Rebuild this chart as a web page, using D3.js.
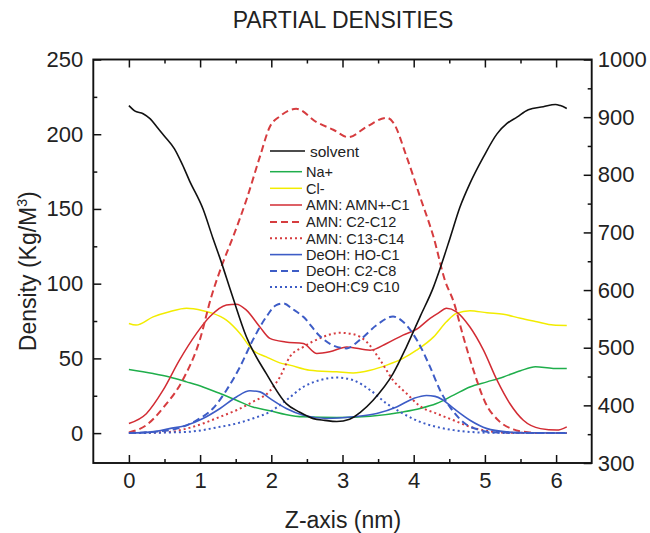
<!DOCTYPE html>
<html>
<head>
<meta charset="utf-8">
<script src="https://cdn.jsdelivr.net/npm/d3@7/dist/d3.min.js"></script>
<style>
  html, body { margin: 0; padding: 0; background: #fff; }
  svg { display: block; font-family: "Liberation Sans", Arial, Helvetica, sans-serif; }
</style>
</head>
<body>
<svg id="chart" width="650" height="533"></svg>
<script>
// Partial density profiles along the box Z axis.
// Each profile is a list of [z (nm), density] samples.

const xTickLabels = ["0", "1", "2", "3", "4", "5", "6"];
const yLeftTicks = [0, 50, 100, 150, 200, 250];
const yRightTicks = [300, 400, 500, 600, 700, 800, 900, 1000];

// solvent is read on the right-hand axis (300-1000)
const solvent = [
  [0, 920], [0.08, 911], [0.2, 906], [0.3, 897], [0.4, 882], [0.5, 867], [0.64, 845],
  [0.75, 818], [0.85, 790], [1.04, 741], [1.18, 690], [1.28, 655], [1.45, 591],
  [1.65, 519], [1.93, 455], [2.21, 403], [2.4, 388], [2.59, 377], [2.75, 374],
  [2.92, 372], [3.1, 376], [3.25, 388], [3.43, 409], [3.71, 455], [3.9, 502],
  [4.09, 554], [4.28, 606], [4.35, 630], [4.51, 690], [4.65, 744], [4.79, 785],
  [4.98, 831], [5.17, 871], [5.31, 889], [5.45, 900], [5.61, 913], [5.82, 918],
  [5.99, 922], [6.06, 920], [6.15, 915]
];

const naPlus = [
  [0, 42.6], [0.34, 39.9], [0.57, 37.6], [0.81, 34.3], [1.04, 30.9], [1.28, 26.5],
  [1.51, 22], [1.74, 17.5], [1.98, 15], [2.2, 12.5], [2.45, 10.9], [2.92, 10.4],
  [3.39, 11.3], [3.85, 14.2], [4.09, 16.5], [4.32, 19.8], [4.56, 25.4], [4.79, 30.9],
  [5.03, 34.3], [5.26, 37.6], [5.5, 41.7], [5.71, 44.4], [5.96, 43.3], [6.15, 43.3]
];

const clMinus = [
  [0, 73.4], [0.1, 72.3], [0.34, 77.8], [0.57, 81.2], [0.81, 83.5], [1.04, 81.9],
  [1.18, 80.1], [1.37, 75.6], [1.56, 66.7], [1.74, 55.5], [1.93, 51], [2.12, 47],
  [2.26, 45.5], [2.54, 42.1], [2.92, 41], [3.15, 40.3], [3.39, 42.1], [3.62, 45.5],
  [3.85, 50], [4.04, 55.5], [4.28, 64.4], [4.46, 74.5], [4.6, 80.1], [4.79, 81.9],
  [5.03, 80.5], [5.26, 79.6], [5.5, 76.8], [5.73, 74.5], [5.96, 72.3], [6.15, 72]
];

const amnHead = [
  [0, 6.4], [0.245, 13], [0.48, 28.7], [0.71, 48.8], [0.95, 66.7], [1.135, 77.8],
  [1.37, 85.7], [1.51, 86.3], [1.65, 82.3], [1.84, 71], [1.98, 63.4], [2.2, 61],
  [2.45, 60], [2.64, 53.3], [2.82, 54.4], [3.06, 57.7], [3.39, 55.5], [3.62, 60],
  [3.85, 65.6], [4.04, 69.5], [4.23, 76.8], [4.35, 80.5], [4.46, 83.5], [4.6, 81.2],
  [4.79, 71], [4.98, 55.5], [5.17, 35.4], [5.35, 19.8], [5.54, 8.6], [5.78, 3],
  [6.01, 2], [6.15, 4.2]
];

const amnChain = [
  [0, 0.5], [0.25, 5.5], [0.5, 18], [0.75, 35], [1.0, 63], [1.15, 90], [1.32, 114],
  [1.46, 131], [1.65, 156], [1.84, 185], [1.98, 205], [2.12, 212], [2.35, 217],
  [2.64, 208], [2.87, 203], [3.08, 198], [3.34, 205], [3.62, 211], [3.71, 208],
  [3.9, 185], [4.09, 158], [4.28, 131], [4.44, 102], [4.56, 88], [4.7, 64],
  [4.84, 42], [5.0, 21], [5.2, 8], [5.4, 2.5], [5.6, 0.6], [5.8, 0], [6.15, 0]
];

const amnTail = [
  [0, 0], [0.57, 0.8], [0.81, 3], [1.04, 6.4], [1.28, 10.9], [1.51, 15.3],
  [1.74, 20.9], [1.98, 28.2], [2.12, 37.5], [2.26, 51], [2.45, 57.7], [2.68, 63.4],
  [2.96, 67.1], [3.15, 66.2], [3.34, 61], [3.53, 48.8], [3.71, 35.4], [3.9, 26.5],
  [4.09, 18], [4.32, 13.1], [4.56, 8.6], [4.79, 4.2], [5.03, 1.5], [5.3, 0.3], [6.15, 0]
];

const deohHead = [
  [0, 0], [0.34, 0.8], [0.57, 3], [0.81, 5.3], [1.04, 9.8], [1.28, 16.5], [1.51, 24.2],
  [1.7, 28.3], [1.84, 27.6], [1.98, 23.2], [2.21, 16.5], [2.45, 12], [2.78, 9.8],
  [3.15, 10.9], [3.48, 13.1], [3.76, 17.5], [4.0, 23.2], [4.18, 25.2], [4.3, 24.6],
  [4.4, 22.5], [4.56, 16.5], [4.79, 8.6], [5.03, 3], [5.31, 0.8], [5.6, 0.2], [6.15, 0]
];

const deohChain = [
  [0, 0], [0.57, 2], [0.95, 8.6], [1.18, 16.5], [1.37, 28.7], [1.56, 44.3],
  [1.74, 62.2], [1.93, 77.8], [2.07, 85.7], [2.17, 86.8], [2.3, 83], [2.45, 77.8],
  [2.68, 65], [2.92, 57.7], [3.06, 56.7], [3.24, 62.2], [3.48, 72.3], [3.71, 78],
  [3.85, 74.5], [4.06, 61], [4.23, 44.3], [4.37, 28.7], [4.56, 14.2], [4.72, 6.4],
  [4.93, 2], [5.1, 0.5], [6.15, 0]
];

const deohTail = [
  [0, 0], [0.81, 0.8], [1.28, 4.2], [1.51, 6.4], [1.74, 9.8], [1.98, 14.2],
  [2.21, 22], [2.45, 30.9], [2.68, 35.4], [2.92, 37.2], [3.15, 35.4], [3.39, 28.7],
  [3.62, 19.8], [3.85, 13.1], [4.09, 7.5], [4.32, 4.2], [4.56, 2], [4.79, 0.8],
  [5.1, 0.2], [6.15, 0]
];

const legendNames = [
  "solvent", "Na+", "Cl-", "AMN: AMN+-C1", "AMN: C2-C12", "AMN: C13-C14",
  "DeOH: HO-C1", "DeOH: C2-C8", "DeOH:C9 C10"
];

// ---- layout ----
const svg = d3.select("#chart");
const plotL = 93.3, plotR = 591.7, plotT = 59.5, plotB = 463;

const x = d3.scaleLinear().domain([-0.5, 6.5]).range([plotL, plotR]);
const yL = d3.scaleLinear().domain([-20, 250]).range([plotB, plotT]);
const yR = d3.scaleLinear().domain([300, 1000]).range([plotB, plotT]);

const red = "#d22b33", redDash = "#d63c3f", blue = "#3d5cc6";
const series = [
  { name: legendNames[0], data: solvent, y: yR, color: "#111", dash: null, w: 1.6 },
  { name: legendNames[1], data: naPlus, y: yL, color: "#1fae4b", dash: null, w: 1.5 },
  { name: legendNames[2], data: clMinus, y: yL, color: "#f2ec00", dash: null, w: 1.5 },
  { name: legendNames[3], data: amnHead, y: yL, color: red, dash: null, w: 1.5 },
  { name: legendNames[4], data: amnChain, y: yL, color: redDash, dash: "7,4", w: 2 },
  { name: legendNames[5], data: amnTail, y: yL, color: redDash, dash: "2,3", w: 2 },
  { name: legendNames[6], data: deohHead, y: yL, color: blue, dash: null, w: 1.6 },
  { name: legendNames[7], data: deohChain, y: yL, color: blue, dash: "7,4", w: 2 },
  { name: legendNames[8], data: deohTail, y: yL, color: blue, dash: "2,3", w: 2 }
];

// title
svg.append("text")
  .attr("x", 343).attr("y", 28)
  .attr("text-anchor", "middle")
  .attr("font-size", 23).attr("fill", "#222")
  .text("PARTIAL DENSITIES");

// curves (solvent drawn last so it sits on top)
const g = svg.append("g");
const drawOrder = series.slice(1).concat([series[0]]);
drawOrder.forEach(s => {
  const line = d3.line()
    .x(d => x(d[0]))
    .y(d => s.y(d[1]))
    .curve(d3.curveMonotoneX);
  g.append("path")
    .datum(s.data)
    .attr("d", line)
    .attr("fill", "none")
    .attr("stroke", s.color)
    .attr("stroke-width", s.w)
    .attr("stroke-dasharray", s.dash)
    .attr("stroke-linejoin", "round");
});

// axes: inward ticks on all four sides
const tickFont = 22;
function styleAxis(sel) {
  sel.select(".domain").remove();
  sel.selectAll(".tick line").attr("stroke", "#111").attr("stroke-width", 1.5);
  sel.selectAll(".tick text").attr("font-size", tickFont).attr("fill", "#222")
    .attr("font-family", "\"Liberation Sans\", Arial, sans-serif");
}

const xMajor = xTickLabels.map(Number);
const xMinor = d3.range(0.5, 6.5, 1);

svg.append("g").attr("transform", `translate(0,${plotB})`)
  .call(d3.axisBottom(x).tickValues(xMajor).tickSize(-8).tickPadding(9)
    .tickFormat((d, i) => xTickLabels[i]))
  .call(styleAxis);
svg.append("g").attr("transform", `translate(0,${plotB})`)
  .call(d3.axisBottom(x).tickValues(xMinor).tickSize(-4).tickFormat(""))
  .call(styleAxis);
svg.append("g").attr("transform", `translate(0,${plotT})`)
  .call(d3.axisTop(x).tickValues(xMajor).tickSize(-8).tickFormat(""))
  .call(styleAxis);
svg.append("g").attr("transform", `translate(0,${plotT})`)
  .call(d3.axisTop(x).tickValues(xMinor).tickSize(-4).tickFormat(""))
  .call(styleAxis);

svg.append("g").attr("transform", `translate(${plotL},0)`)
  .call(d3.axisLeft(yL).tickValues(yLeftTicks).tickSize(-8).tickPadding(10)
    .tickFormat(d3.format("d")))
  .call(styleAxis);
svg.append("g").attr("transform", `translate(${plotL},0)`)
  .call(d3.axisLeft(yL).tickValues(d3.range(25, 250, 50)).tickSize(-4).tickFormat(""))
  .call(styleAxis);

svg.append("g").attr("transform", `translate(${plotR},0)`)
  .call(d3.axisRight(yR).tickValues(yRightTicks).tickSize(-8).tickPadding(6)
    .tickFormat(d3.format("d")))
  .call(styleAxis);
svg.append("g").attr("transform", `translate(${plotR},0)`)
  .call(d3.axisRight(yR).tickValues(d3.range(350, 1000, 100)).tickSize(-4).tickFormat(""))
  .call(styleAxis);

// frame
svg.append("rect")
  .attr("x", plotL).attr("y", plotT)
  .attr("width", plotR - plotL).attr("height", plotB - plotT)
  .attr("fill", "none").attr("stroke", "#111").attr("stroke-width", 1.9);

// axis titles
svg.append("text")
  .attr("x", 343).attr("y", 528)
  .attr("text-anchor", "middle").attr("font-size", 23).attr("fill", "#222")
  .text("Z-axis (nm)");

const yt = svg.append("text")
  .attr("transform", `translate(36,${(plotT + plotB) / 2 + 10}) rotate(-90)`)
  .attr("text-anchor", "middle").attr("font-size", 23).attr("fill", "#222");
yt.append("tspan").text("Density (Kg/M");
yt.append("tspan").attr("font-size", 14).attr("dy", -9).text("3");
yt.append("tspan").attr("dy", 9).text(")");

// legend
const lg = svg.append("g");
const rowY = [151, 171.7, 188.3, 205, 222, 238.3, 254.6, 271, 287];
series.forEach((s, i) => {
  const y0 = rowY[i];
  const x1 = i === 0 ? 305 : 302;
  lg.append("line")
    .attr("x1", 270).attr("x2", x1).attr("y1", y0).attr("y2", y0)
    .attr("stroke", s.color).attr("stroke-width", s.w)
    .attr("stroke-dasharray", s.dash);
  lg.append("text")
    .attr("x", i === 0 ? 310 : 306).attr("y", y0)
    .attr("dy", "0.36em")
    .attr("font-size", i === 0 ? 15.5 : 14.5).attr("fill", "#222")
    .text(s.name);
});
</script>
</body>
</html>
